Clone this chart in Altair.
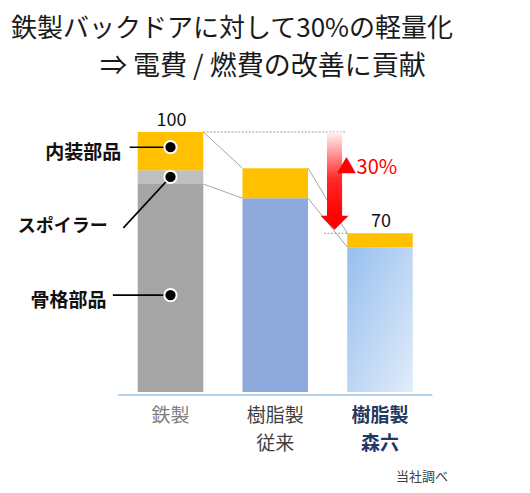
import altair as alt
import pandas as pd

# ---------------- data ----------------
CATEGORY_LINE1 = ["鉄製", "樹脂製", "樹脂製"]
CATEGORY_LINE2 = ["", "従来", "森六"]
CATEGORY_COLORS = ["#7F7F7F", "#3F3F3F", "#1F3864"]
CATEGORY_BOLD = [False, False, True]

TOTALS = [100.0, 89.3, 70.0]          # 重量指数
BODY = [84.6, 80.4, 65.9]             # 骨格部品 / 本体
SPOILER = [4.1, 0.0, 0.0]             # スポイラー
INTERIOR = [11.3, 8.9, 4.1]           # 内装部品
TOTAL_LABELS = ["100", "", "70"]
AXIS_MIN = 23.0

BODY_COLORS = ["#A5A5A5", "#8EA9DB", None]   # third bar drawn with gradient
SPOILER_COLOR = "#BFBFBF"
INTERIOR_COLOR = "#FFC000"

CALLOUT_LABELS = ["内装部品", "スポイラー", "骨格部品"]
CALLOUT_SIZES = [19, 18, 19]
CALLOUT_DOT_Y = [95.5, 86.7, 51.7]
CALLOUT_LEADER_X = [-0.39, -0.45, -0.55]
CALLOUT_LEADER_Y = [95.5, 71.6, 51.7]
CALLOUT_LABEL_X = [-0.47, -0.60, -0.61]
CALLOUT_LABEL_Y = [93.9, 71.8, 50.0]

REDUCTION_TEXT = "▲30%"
TITLE_LINE1 = "鉄製バックドアに対して30%の軽量化"
TITLE_LINE2 = "⇒ 電費 / 燃費の改善に貢献"
SOURCE_TEXT = "当社調べ"

# ---------------- geometry helpers ----------------
HALF = 0.313
FONT = "Noto Sans CJK JP"

xs = alt.Scale(domain=[0, 2], range=[162.5, 372], nice=False, zero=False)
ys = alt.Scale(domain=[AXIS_MIN, 100], range=[384, 124], nice=False, zero=False, clamp=True)


def X(f):
    return alt.X(f, type="quantitative", scale=xs, axis=None)


def X2(f):
    return alt.X2(f)


def Y(f):
    return alt.Y(f, type="quantitative", scale=ys, axis=None)


def Y2(f):
    return alt.Y2(f)


# segments
rows = []
for i in range(3):
    b = BODY[i]
    s = b + SPOILER[i]
    t = s + INTERIOR[i]
    if BODY_COLORS[i]:
        rows.append(dict(x1=i - HALF, x2=i + HALF, lo=0.0, hi=b, fill=BODY_COLORS[i]))
    if SPOILER[i] > 0:
        rows.append(dict(x1=i - HALF, x2=i + HALF, lo=b, hi=s, fill=SPOILER_COLOR))
    rows.append(dict(x1=i - HALF, x2=i + HALF, lo=s, hi=t, fill=INTERIOR_COLOR))
seg = pd.DataFrame(rows)

grad_df = pd.DataFrame([dict(x1=2 - HALF, x2=2 + HALF, lo=0.0, hi=BODY[2])])

bars = alt.Chart(seg).mark_rect().encode(
    x=X("x1"), x2=X2("x2"), y=Y("hi"), y2=Y2("lo"),
    color=alt.Color("fill:N", scale=None),
)
bar3 = alt.Chart(grad_df).mark_rect(
    color={
        "gradient": "linear", "x1": 0, "y1": 0, "x2": 1, "y2": 1,
        "stops": [{"offset": 0, "color": "#97BFEF"}, {"offset": 1, "color": "#E1ECF9"}],
    }
).encode(x=X("x1"), x2=X2("x2"), y=Y("hi"), y2=Y2("lo"))

# connectors between bars
conn = []
for i in range(2):
    conn.append(dict(xa=i + HALF, xb=i + 1 - HALF, ya=TOTALS[i], yb=TOTALS[i + 1]))
    conn.append(dict(xa=i + HALF, xb=i + 1 - HALF, ya=BODY[i], yb=BODY[i + 1]))
connectors = alt.Chart(pd.DataFrame(conn)).mark_rule(color="#A6A6A6", strokeWidth=1).encode(
    x=X("xa"), x2=X2("xb"), y=Y("ya"), y2=Y2("yb")
)

dots_df = pd.DataFrame([
    dict(xa=HALF, xb=1.666, ya=TOTALS[0], yb=TOTALS[0]),
    dict(xa=1.465, xb=2 - HALF, ya=TOTALS[2], yb=TOTALS[2]),
])
dotted = alt.Chart(dots_df).mark_rule(color="#9A9A9A", strokeWidth=1, strokeDash=[2, 1.5]).encode(
    x=X("xa"), x2=X2("xb"), y=Y("ya"), y2=Y2("yb")
)

# arrow
ARROW_X = 1.566
shaft_df = pd.DataFrame([dict(x1=ARROW_X - 0.072, x2=ARROW_X + 0.072, top=TOTALS[0], bot=75.0)])
shaft = alt.Chart(shaft_df).mark_rect(
    color={
        "gradient": "linear", "x1": 0, "y1": 0, "x2": 0, "y2": 1,
        "stops": [
            {"offset": 0, "color": "#FFF4F4"},
            {"offset": 0.55, "color": "#FF2A2A"},
            {"offset": 1, "color": "#FF0000"},
        ],
    }
).encode(x=X("x1"), x2=X2("x2"), y=Y("top"), y2=Y2("bot"))
head = alt.Chart(pd.DataFrame([dict(x=ARROW_X, y=73.1)])).mark_point(
    shape="M-1,-0.5L1,-0.5L0,0.5Z", size=784, filled=True, opacity=1, color="#FF0000"
).encode(x=X("x"), y=Y("y"))

reduction = alt.Chart(pd.DataFrame([dict(x=1.585, y=89.3, t=REDUCTION_TEXT)])).mark_text(
    align="left", baseline="middle", font=FONT, fontSize=20, color="#FF0000"
).encode(x=X("x"), y=Y("y"), text="t:N")

# total labels
tot_df = pd.DataFrame(dict(x=[0, 1, 2], y=TOTALS, t=TOTAL_LABELS))
tot_df = tot_df[tot_df.t != ""]
totals = alt.Chart(tot_df).mark_text(
    baseline="middle", font=FONT, fontSize=18, color="#111111", dy=-11, dx=1
).encode(x=X("x"), y=Y("y"), text="t:N")

# callouts
cal_df = pd.DataFrame(dict(
    label=CALLOUT_LABELS, size=CALLOUT_SIZES, dy=CALLOUT_DOT_Y, lx=CALLOUT_LEADER_X,
    ly=CALLOUT_LEADER_Y, tx=CALLOUT_LABEL_X, ty=CALLOUT_LABEL_Y, dx=[0, 0, 0],
))
leaders = alt.Chart(cal_df).mark_rule(color="#000000", strokeWidth=1.6).encode(
    x=X("lx"), x2=X2("dx"), y=Y("ly"), y2=Y2("dy")
)
dots = alt.Chart(cal_df).mark_point(
    shape="circle", size=150, filled=True, opacity=1, color="#000000",
    stroke="#FFFFFF", strokeWidth=2,
).encode(x=X("dx"), y=Y("dy"))
cal_text = alt.Chart(cal_df).mark_text(
    align="right", baseline="middle", font=FONT, fontWeight="bold", color="#111111"
).encode(x=X("tx"), y=Y("ty"), text="label:N",
         size=alt.Size("size:Q", scale=None, legend=None))

# category labels & axis line
cat_df = pd.DataFrame(dict(
    x=[0, 1, 2], l1=CATEGORY_LINE1, l2=CATEGORY_LINE2, c=CATEGORY_COLORS, b=CATEGORY_BOLD,
))
axis_line = alt.Chart(pd.DataFrame([dict(a=-0.5, b=2.5)])).mark_rule(
    color="#9DC3E6", strokeWidth=1.5
).encode(x=X("a"), x2=X2("b"), y=alt.value(387))

cat_layers = []
for bold in (False, True):
    base = alt.Chart(cat_df).transform_filter(alt.datum.b == bold)
    kw = dict(baseline="middle", font=FONT, fontSize=19, fontWeight="bold" if bold else "normal")
    cat_layers.append(base.mark_text(**kw).encode(
        x=X("x"), y=alt.value(408), text="l1:N", color=alt.Color("c:N", scale=None)))
    cat_layers.append(base.mark_text(**kw).encode(
        x=X("x"), y=alt.value(436), text="l2:N", color=alt.Color("c:N", scale=None)))

# titles & source
txt_df = pd.DataFrame([dict(a=TITLE_LINE1, b=TITLE_LINE2, s=SOURCE_TEXT)])
title1 = alt.Chart(txt_df).mark_text(
    align="left", baseline="middle", font=FONT, fontSize=26, color="#1A1A1A"
).encode(x=alt.value(3), y=alt.value(21), text="a:N")
title2 = alt.Chart(txt_df).mark_text(
    align="left", baseline="middle", font=FONT, fontSize=27, color="#1A1A1A"
).encode(x=alt.value(92), y=alt.value(59), text="b:N")
source = alt.Chart(txt_df).mark_text(
    align="right", baseline="middle", font=FONT, fontSize=13, color="#404040"
).encode(x=alt.value(440), y=alt.value(469), text="s:N")

chart = alt.layer(
    bars, bar3, connectors, dotted, shaft, head, reduction, totals,
    leaders, dots, cal_text, axis_line, *cat_layers, title1, title2, source,
).properties(
    width=514, height=477,
    autosize=alt.AutoSizeParams(type="none"), padding=0,
).configure_view(stroke=None)

chart.save("out.html", embed_options={"renderer": "svg", "actions": False})
